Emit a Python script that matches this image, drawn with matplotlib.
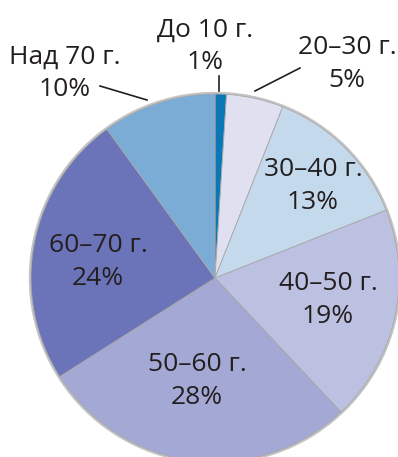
import matplotlib.pyplot as plt
from matplotlib.patches import Circle

# data, clockwise from the top
groups = ["До 10 г.", "20–30 г.", "30–40 г.", "40–50 г.", "50–60 г.", "60–70 г.", "Над 70 г."]
shares = [1, 5, 13, 19, 28, 24, 10]
colors = ["#0a78b6", "#e0e0f0", "#c5d9ed", "#bcc1e1", "#a3a8d5", "#6b74b8", "#7bacd5"]

# label positions in image pixels (x, y from top)
label_pos = [(205, 46), (347, 64), (313, 186), (328, 300), (197, 381), (98, 262), (65, 73)]
# leader lines for the small/outer labels
leaders = {0: ((219, 76), (219, 91)), 1: ((300, 68), (255, 91)), 6: ((100, 86), (147, 100))}

W, H = 398, 457
cx, cy, r = 215, 278, 184

fig = plt.figure(figsize=(W / 100, H / 100), dpi=100)
ax = fig.add_axes([0, 0, 1, 1])

# soft grey rim around the pie
ax.add_patch(Circle((cx, H - cy), r + 1.5, color="#c4c4c4", zorder=0))

ax.pie(shares, colors=colors, startangle=90, counterclock=False,
       center=(cx, H - cy), radius=r, frame=True,
       wedgeprops=dict(edgecolor="#a8a8a8", linewidth=0.6))
ax.set_xlim(0, W)
ax.set_ylim(0, H)
ax.set_aspect("equal")
ax.axis("off")

for i, (g, s) in enumerate(zip(groups, shares)):
    x, y = label_pos[i]
    ax.text(x, H - y, f"{g}\n{s}%", ha="center", va="center", fontsize=19,
            family="Open Sans", color="#231f20", linespacing=1.38)

for (x0, y0), (x1, y1) in leaders.values():
    ax.plot([x0, x1], [H - y0, H - y1], color="#231f20", lw=1.2)

fig.savefig("out.png", dpi=100)
